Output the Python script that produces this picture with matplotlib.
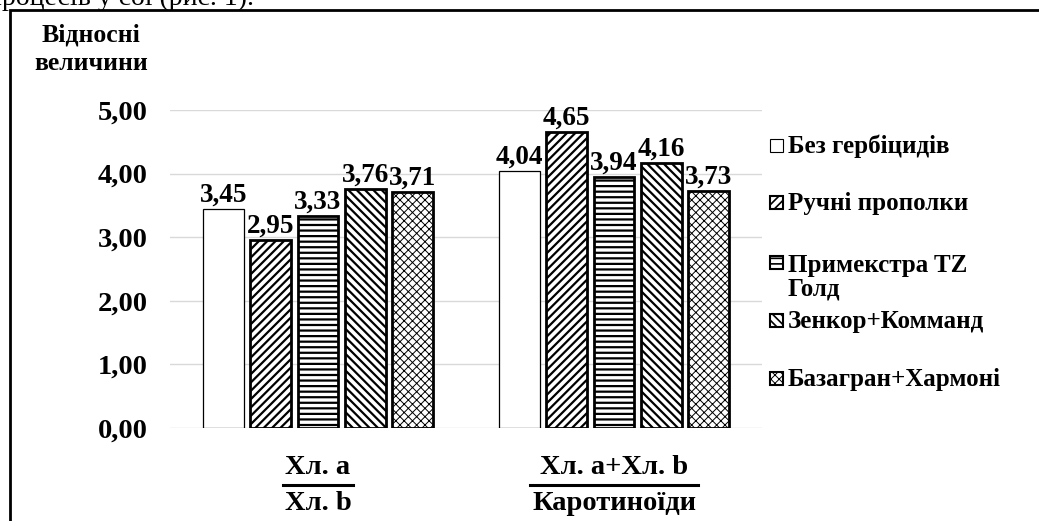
import numpy as np
import matplotlib.pyplot as plt
from matplotlib.patches import Rectangle
from matplotlib.lines import Line2D

plt.rcParams['font.family'] = ['Liberation Serif', 'DejaVu Serif']
plt.rcParams['hatch.linewidth'] = 1.6

# data
groups_num = ['Хл. a', 'Хл. a+Хл. b']
groups_den = ['Хл. b', 'Каротиноїди']
series = ['Без гербіцидів', 'Ручні прополки', 'Примекстра TZ\nГолд',
          'Зенкор+Комманд', 'Базагран+Хармоні']
values = [[3.45, 4.04],
          [2.95, 4.65],
          [3.33, 3.94],
          [3.76, 4.16],
          [3.71, 3.73]]
yticks = [0, 1, 2, 3, 4, 5]

hatches = ['', '////', '---', '\\\\\\\\', 'xxxx']
edge_w = [0.9, 2.0, 2.0, 2.0, 2.0]
hatch_w = [1.6, 1.6, 1.6, 1.6, 0.7]

W, H = 1039, 521
fig = plt.figure(figsize=(W / 100, H / 100), dpi=100)
ax = fig.add_axes([170 / W, 1 - 428 / H, 592 / W, 318 / H])

x = np.arange(len(groups_num))
step = 0.16
width = 0.138
for i, name in enumerate(series):
    pos = x + (i - 2) * step
    with plt.rc_context({'hatch.linewidth': hatch_w[i]}):
        ax.bar(pos, values[i], width, color='white', edgecolor='black',
               linewidth=edge_w[i], hatch=hatches[i], zorder=3)
    for p, v in zip(pos, values[i]):
        ax.annotate(f'{v:.2f}'.replace('.', ','), (p, v), xytext=(0, 1),
                    textcoords='offset points', ha='center', va='bottom',
                    fontsize=19.5, fontweight='bold', zorder=4)

ax.set_xlim(-0.5, 1.5)
ax.set_ylim(0, 5)
ax.set_yticks(yticks)
ax.set_yticklabels([f'{t:.2f}'.replace('.', ',') for t in yticks],
                   fontsize=20.5, fontweight='bold')
ax.set_xticks([])
ax.tick_params(axis='y', length=0, pad=16)
ax.yaxis.grid(True, color='#d9d9d9', linewidth=1)
ax.set_axisbelow(True)
for s in ax.spines.values():
    s.set_visible(False)

# y axis title
fig.text(91 / W, 1 - 35 / H, 'Відносні', ha='center', va='center',
         fontsize=18.5, fontweight='bold')
fig.text(91 / W, 1 - 63 / H, 'величини', ha='center', va='center',
         fontsize=18.5, fontweight='bold')

# category labels as fractions
fig.canvas.draw()
r = fig.canvas.get_renderer()
for xi, num, den in zip(x, groups_num, groups_den):
    xf = fig.transFigure.inverted().transform(ax.transData.transform((xi, 0)))[0]
    t1 = fig.text(xf, 1 - 468 / H, num, ha='center', va='center',
                  fontsize=20.5, fontweight='bold')
    t2 = fig.text(xf, 1 - 504 / H, den, ha='center', va='center',
                  fontsize=20.5, fontweight='bold')
    w1 = t1.get_window_extent(r).width
    w2 = t2.get_window_extent(r).width
    half = (max(w1, w2) + 4) / 2 / W
    fig.add_artist(Line2D([xf - half, xf + half], [1 - 485 / H] * 2,
                          transform=fig.transFigure, color='black', linewidth=2.2))

# legend, placed item by item
leg_y = [145, 202, 262, 320, 378]
for i, name in enumerate(series):
    yc = 1 - leg_y[i] / H
    nl = name.count('\n')
    with plt.rc_context({'hatch.linewidth': 1.2 if i < 4 else 0.7}):
        fig.add_artist(Rectangle((770 / W, yc - 6.5 / H), 13 / W, 13 / H,
                                 transform=fig.transFigure, facecolor='white',
                                 edgecolor='black', linewidth=1.5 if i else 0.8,
                                 hatch=hatches[i]))
    fig.text(788 / W, yc - (8 + 26 * nl) / H, name, ha='left', va='baseline',
             fontsize=18, fontweight='bold', linespacing=1.05)

# frame around the chart
fig.add_artist(Rectangle((10 / W, -0.05), 1.1, 1 - 10 / H + 0.05,
                         transform=fig.transFigure, fill=False,
                         edgecolor='black', linewidth=2))

# clipped line of document text above
fig.text(-13 / W, 1 - 5 / H, 'процесів у сої (рис. 1).', ha='left', va='baseline',
         fontsize=20)

fig.savefig('out.png', dpi=100)
